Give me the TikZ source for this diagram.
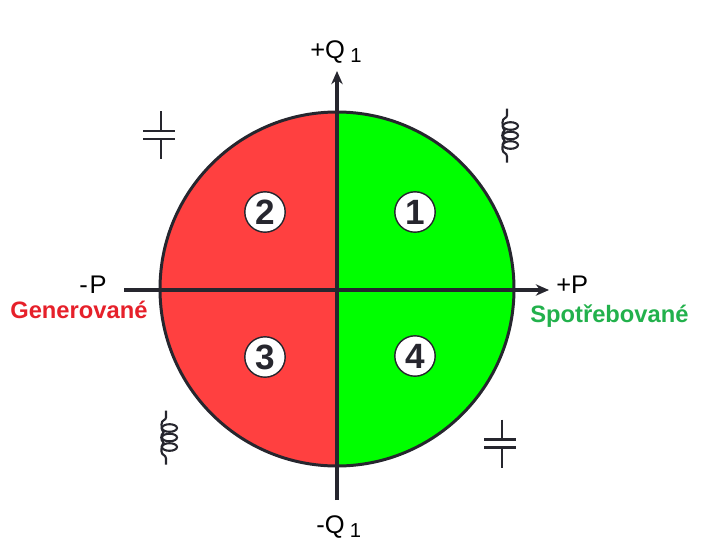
\documentclass[tikz,border=0pt]{standalone}
\usepackage{fontspec}
\setmainfont{Liberation Sans}
\usetikzlibrary{positioning, arrows.meta}
\definecolor{quadred}{RGB}{255,64,64}
\definecolor{quadgreen}{RGB}{0,255,0}
\definecolor{axisgrey}{RGB}{38,38,46}
\definecolor{genred}{RGB}{230,32,42}
\definecolor{conzgreen}{RGB}{34,177,76}
\tikzset{
    axislabel/.style={font=\fontsize{14.5pt}{15pt}\selectfont, text=black, inner sep=0pt},
    badge/.style={draw=axisgrey, circle, fill=white, line width=0.8pt, minimum size=23pt, inner sep=0pt, font=\fontsize{20pt}{21pt}\selectfont\bfseries, text=axisgrey},
    sidelabel/.style={font=\fontsize{13.5pt}{15pt}\selectfont\bfseries, inner sep=0pt},
    axisline/.style={draw=axisgrey, line width=1.8pt, -{Stealth[length=7.5pt,width=6.5pt]}},
    symbolline/.style={draw=axisgrey, line width=1.2pt},
    pics/capacitor/.style={code={
        \draw [symbolline, line width=1.6pt] (2,-24) -- (2,-4);
        \draw [symbolline, line width=1.6pt] (2,4) -- (2,24);
        \draw [symbolline, line width=1.6pt] (-16,-4) -- (16,-4);
        \draw [symbolline, line width=1.6pt] (-16,4) -- (16,4);
    }},
    pics/coil/.style={code={
        \draw [symbolline] (-3.5,-27) -- (-3.5,-20) .. controls (-3.5,-17) and (-8,-18) .. (-8,-13) .. controls (-8,-10) and (-8,-7) .. (-6,-5) .. controls (-9,-3) and (-9,3) .. (-6,5) .. controls (-8,7) and (-8,10) .. (-8,14) .. controls (-8,18) and (-3.5,17) .. (-3.5,21) -- (-3.5,27);
        \foreach \y in {-9.5,0,9.5}
            \draw [symbolline] (0,\y) ellipse [x radius=7.5, y radius=3.8];
    }},
}
\begin{document}
\begin{tikzpicture}[x=0.02cm, y=-0.02cm]
    \useasboundingbox (0,0) rectangle (703,558);
    % quadrants
    \fill [quadred] (337,112) arc [start angle=-90, end angle=-270, radius=177] -- cycle;
    \fill [quadgreen] (337,112) arc [start angle=-90, end angle=90, radius=177] -- cycle;
    \node (disc) [draw=axisgrey, circle, line width=1.7pt, minimum size=354*0.02cm, inner sep=0pt] at (337,289) {};

    \coordinate (Pminus) at (124,290);
    \coordinate (Pplus) at (549,290);
    \coordinate (Qminus) at (337,500);
    \coordinate (Qplus) at (337,71);
    \draw [axisline] (Pminus) -- (Pplus);
    \draw [axisline] (Qminus) -- (Qplus);

    \node (one) [badge] at (415,212) {1};
    \node (two) [badge] at (265,212) {2};
    \node (three) [badge] at (265,357) {3};
    \node (four) [badge] at (415,356) {4};

    \node (Qtop) [axislabel, anchor=base west] at (310,58) {+Q\kern3pt\raisebox{-2.5pt}{\fontsize{11.5pt}{12pt}\selectfont 1}};
    \node (Qbottom) [axislabel, anchor=base west] at (316,533) {-Q\kern3pt\raisebox{-2.5pt}{\fontsize{11.5pt}{12pt}\selectfont 1}};
    \node (Pleft) [axislabel, anchor=base west] at (79,293) {-\kern1pt P};
    \node (Pright) [axislabel, anchor=base west] at (556,293) {+P};
    \node (gen) [sidelabel, text=genred, anchor=base west] at (10,318) {Generované};
    \node (spot) [sidelabel, text=conzgreen, anchor=base west] at (530,322) {Spotřebované};

    \pic (capA) at (159,135) {capacitor};
    \pic (capB) at (500,443.5) {capacitor};
    \pic (coilA) at (510.5,135.5) {coil};
    \pic (coilB) at (169.5,437.5) {coil};
\end{tikzpicture}
\end{document}
